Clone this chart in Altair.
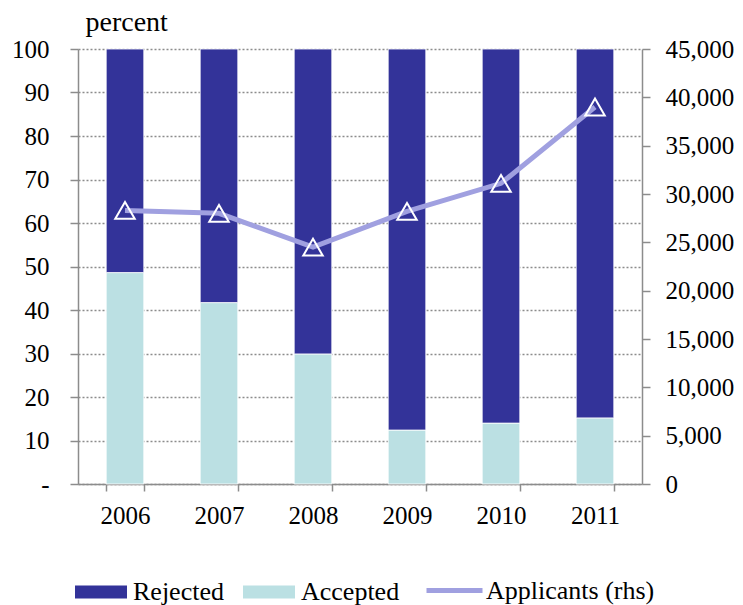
import altair as alt
import pandas as pd

# Asylum decisions: share accepted / rejected (lhs, percent) and applicants (rhs)
years = ["2006", "2007", "2008", "2009", "2010", "2011"]
accepted = [48.6, 41.7, 29.9, 12.4, 14.0, 15.2]
rejected = [51.4, 58.3, 70.1, 87.6, 86.0, 84.8]
applicants = [28300, 28000, 24500, 28200, 31100, 39000]

bar_series = ["Rejected", "Accepted"]
line_series = "Applicants (rhs)"

FONT = "Liberation Serif"
FS = 25
DARK = "#333399"
LIGHT = "#BBE0E3"
LAVENDER = "#A0A0E0"
GREY = "#8c8c8c"

bars_df = pd.DataFrame({
    "year": years * 2,
    "series": ["Accepted"] * len(years) + ["Rejected"] * len(years),
    "value": accepted + rejected,
    "stack_order": [0] * len(years) + [1] * len(years),
})
line_df = pd.DataFrame({"year": years, "applicants": applicants, "series": [line_series] * len(years)})

x_enc = alt.X(
    "year:N",
    title=None,
    sort=years,
    scale=alt.Scale(paddingInner=0.6, paddingOuter=0.3),
    axis=alt.Axis(labelAngle=0, tickBand="extent", tickSize=7, labelPadding=12, grid=False),
)

bars = alt.Chart(bars_df).mark_bar(stroke="white", strokeWidth=0.8).encode(
    x=x_enc,
    y=alt.Y(
        "value:Q",
        stack="zero",
        scale=alt.Scale(domain=[0, 100], nice=False),
        axis=alt.Axis(
            values=list(range(0, 101, 10)),
            labelExpr="datum.value == 0 ? '-' : datum.label",
            tickSize=8,
            labelPadding=21,
            grid=True,
            gridDash=[2, 2],
            gridColor=GREY,
            gridWidth=1.3,
            title="percent",
            titleFontSize=28,
            titleAngle=0,
            titleX=7,
            titleY=-19,
            titleAlign="left",
            titleBaseline="alphabetic",
        ),
    ),
    order=alt.Order("stack_order:Q"),
    fill=alt.Fill(
        "series:N",
        scale=alt.Scale(domain=bar_series, range=[DARK, LIGHT]),
        legend=alt.Legend(
            title=None,
            orient="none",
            legendX=-3,
            legendY=517,
            direction="horizontal",
            symbolType="M-1,-0.25H1V0.25H-1Z",
            symbolSize=2704,
            symbolStrokeWidth=0,
            symbolOpacity=1,
            labelOffset=6,
            columnPadding=19,
            padding=0,
        ),
    ),
)

rhs_axis = alt.Axis(
    orient="right",
    values=list(range(0, 45001, 5000)),
    labelExpr="format(datum.value, ',')",
    tickSize=8,
    labelPadding=15,
    grid=False,
    title=None,
)
rhs_scale = alt.Scale(domain=[0, 45000], nice=False)

line = alt.Chart(line_df).mark_line(strokeWidth=5).encode(
    x=alt.X("year:N", sort=years),
    y=alt.Y("applicants:Q", scale=rhs_scale, axis=rhs_axis),
    stroke=alt.Stroke(
        "series:N",
        scale=alt.Scale(domain=[line_series], range=[LAVENDER]),
        legend=alt.Legend(
            title=None,
            orient="none",
            legendX=346,
            legendY=511,
            symbolType="M-1,0H1",
            symbolSize=3136,
            symbolStrokeWidth=5,
            labelOffset=1,
            labelLimit=400,
            padding=0,
        ),
    ),
)

markers = alt.Chart(line_df).mark_point(
    shape="triangle-up", filled=False, color="white", strokeWidth=2, size=380, opacity=1
).encode(
    x=alt.X("year:N", sort=years),
    y=alt.Y("applicants:Q", scale=rhs_scale, axis=rhs_axis),
)

rhs = alt.layer(line, markers)

chart = (
    alt.layer(bars, rhs)
    .resolve_scale(y="independent")
    .properties(
        width=564,
        height=435,
        padding={"left": 78, "top": 49, "right": 101, "bottom": 121},
        autosize=alt.AutoSizeParams(type="none"),
    )
    .configure_view(stroke=None)
    .configure_axis(
        domainColor=GREY,
        domainWidth=1.5,
        tickColor=GREY,
        tickWidth=1.5,
        labelFont=FONT,
        labelFontSize=FS,
        labelColor="black",
        titleFont=FONT,
        titleFontSize=FS,
        titleFontWeight="normal",
        titleColor="black",
    )
    .configure_legend(
        labelFont=FONT,
        labelFontSize=26,
        labelColor="black",
        labelLimit=400,
    )
)

chart.save("out.html", embed_options={"renderer": "svg", "actions": False})
